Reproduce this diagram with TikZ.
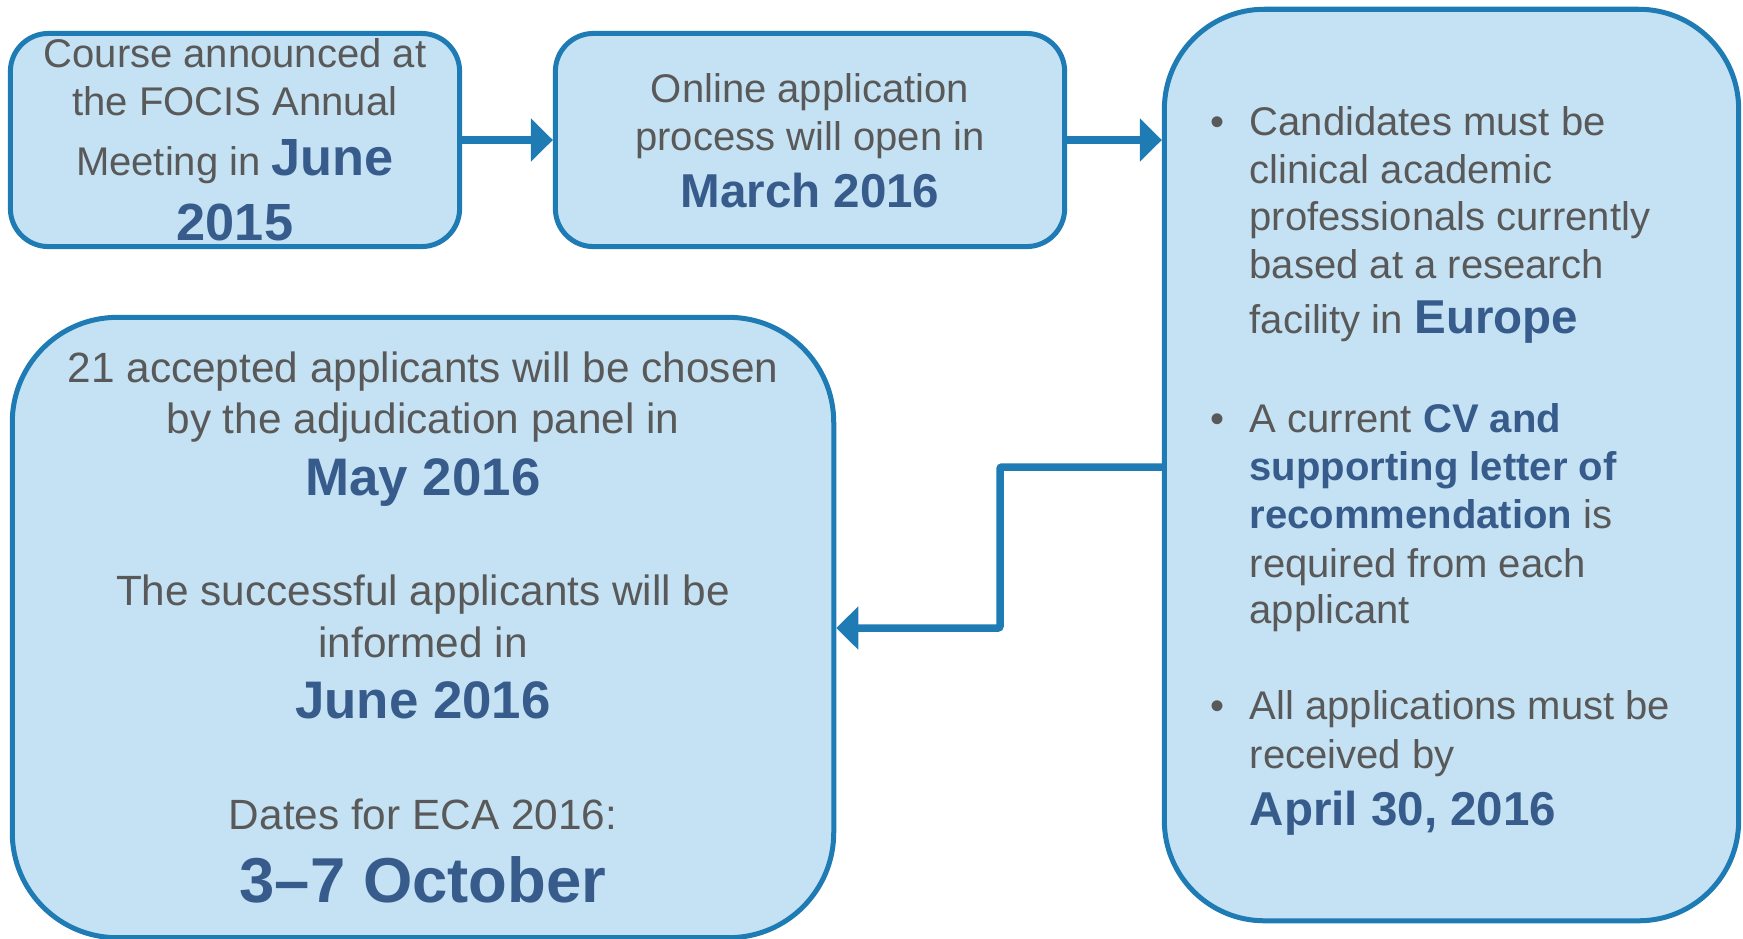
\documentclass[tikz,border=0pt]{standalone}
\usepackage{fontspec}
\setmainfont{Liberation Sans}
\usetikzlibrary{arrows.meta}
\definecolor{boxline}{HTML}{1F7BB3}
\definecolor{boxfill}{HTML}{C4E2F3}
\definecolor{txtgrey}{HTML}{595959}
\definecolor{txtblue}{HTML}{375C8C}
\newcommand\hlb[2]{{\fontsize{#1}{#1}\selectfont\bfseries\color{txtblue}#2}}
\begin{document}
\begin{tikzpicture}[x=0.01cm,y=0.01cm,
  box/.style={draw=boxline, fill=boxfill, line width=0.05cm, inner sep=0pt, rectangle},
  conn/.style={draw=boxline, line width=0.075cm, rounded corners=0.02cm, -{Triangle[length=0.22cm,width=0.42cm]}},
  ln/.style={inner sep=0pt, anchor=base, text=txtgrey, font=\fontsize{0.40cm}{0.48cm}\selectfont},
  lnl/.style={ln, anchor=base west},
  ln4/.style={ln, font=\fontsize{0.423cm}{0.5cm}\selectfont},
]
\useasboundingbox (0,0) rectangle (1743,-938);

% boxes
\node[box, minimum width=4.49cm, minimum height=2.13cm, rounded corners=0.38cm] (b1) at (235,-140) {};
\node[box, minimum width=5.09cm, minimum height=2.13cm, rounded corners=0.38cm] (b2) at (810,-140) {};
\node[box, minimum width=5.74cm, minimum height=9.11cm, rounded corners=1.0cm] (b3) at (1451.5,-465) {};
\node[box, minimum width=8.21cm, minimum height=6.20cm, rounded corners=1.05cm] (b4) at (423,-627.5) {};

% connectors
\draw[conn] (b1.east) -- (b2.west);
\draw[conn] (b2.east) -- (b3.west |- b2.east);
\coordinate (k1) at (1000,-467);
\coordinate (k2) at (1000,-628);
\draw[conn] (b3.west |- k1) -- (k1) -- (k2) -- (b4.east |- k2);

% box 1 text
\node[ln] (t1a) at (235,-67) {Course announced at};
\node[ln] (t1b) at (235,-115) {the FOCIS Annual};
\node[ln] (t1c) at (235,-175) {Meeting in \hlb{0.523cm}{June}};
\node[ln] (t1d) at (235,-240) {\hlb{0.523cm}{2015}};

% box 2 text
\node[ln] (t2a) at (810,-102) {Online application};
\node[ln] (t2b) at (810,-150) {process will open in};
\node[ln] (t2c) at (810,-207) {\hlb{0.475cm}{March 2016}};

% box 3 text
\node[ln] (u1) at (1217,-135) {•};
\node[ln] (u2) at (1217,-432) {•};
\node[ln] (u3) at (1217,-719) {•};
\node[lnl] (t3a) at (1249,-135) {Candidates must be};
\node[lnl] (t3b) at (1249,-183) {clinical academic};
\node[lnl] (t3c) at (1249,-230) {professionals currently};
\node[lnl] (t3d) at (1249,-278) {based at a research};
\node[lnl] (t3e) at (1249,-333) {facility in \hlb{0.475cm}{Europe}};
\node[lnl] (t3f) at (1249,-432) {A current \hlb{0.40cm}{CV and}};
\node[lnl] (t3g) at (1249,-480) {\hlb{0.40cm}{supporting letter of}};
\node[lnl] (t3h) at (1249,-528) {\hlb{0.40cm}{recommendation} is};
\node[lnl] (t3i) at (1249,-577) {required from each};
\node[lnl] (t3j) at (1249,-623) {applicant};
\node[lnl] (t3k) at (1249,-719) {All applications must be};
\node[lnl] (t3l) at (1249,-768) {received by};
\node[lnl] (t3m) at (1249,-825) {\hlb{0.475cm}{April 30, 2016}};

% box 4 text
\node[ln4] (t4a) at (423,-382) {21 accepted applicants will be chosen};
\node[ln4] (t4b) at (423,-433) {by the adjudication panel in};
\node[ln4] (t4c) at (423,-495) {\hlb{0.528cm}{May 2016}};
\node[ln4] (t4d) at (423,-605) {The successful applicants will be};
\node[ln4] (t4e) at (423,-657) {informed in};
\node[ln4] (t4f) at (423,-718) {\hlb{0.528cm}{June 2016}};
\node[ln4] (t4g) at (423,-829) {Dates for ECA 2016:};
\node[ln4] (t4h) at (423,-902) {\hlb{0.634cm}{3–7 October}};
\end{tikzpicture}
\end{document}
